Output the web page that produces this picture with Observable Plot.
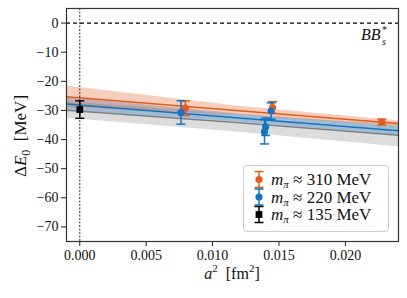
<!DOCTYPE html>
<html><head><meta charset="utf-8">
<script src="https://cdn.jsdelivr.net/npm/d3@7"></script>
<script src="https://cdn.jsdelivr.net/npm/@observablehq/plot@0.6"></script>
<style>
body{margin:0;background:#fff}
#chart{width:407px;height:298px}
</style></head><body><div id="chart"></div>
<script>
const xTicks = [0, 0.005, 0.010, 0.015, 0.020];
const yTicks = [-70, -60, -50, -40, -30, -20, -10, 0];
const series = ["310", "220", "135"];
const legendLabels = ["310 MeV", "220 MeV", "135 MeV"];
const colors = ["#e35b1e", "#1473c2", "#000000"];

const pts310X = [0.00795, 0.01452, 0.02274];
const pts310Y = [-29.2, -29.0, -34.0];
const pts310E = [2.5, 2.0, 1.0];
const pts220X = [0.00762, 0.01441, 0.01400, 0.01391];
const pts220Y = [-30.7, -30.2, -35.6, -37.3];
const pts220E = [4.0, 2.8, 3.0, 4.2];
const pts135X = [0];
const pts135Y = [-29.7];
const pts135E = [3.0];

const fitX = [-0.001, 0.012, 0.024];
const fit310 = [-25.3, -30.1, -34.5];
const fit310Up = [-21.6, -28.6, -33.5];
const fit310Lo = [-29.0, -31.6, -35.5];
const fit220 = [-27.8, -32.6, -37.0];
const fit220Up = [-25.5, -31.2, -35.5];
const fit220Lo = [-30.1, -34.0, -38.5];
const fit135 = [-29.9, -34.2, -38.5];
const fit135Up = [-27.0, -31.5, -34.8];
const fit135Lo = [-32.7, -37.5, -42.5];

const FONT = '"Liberation Serif","Times New Roman","DejaVu Serif",serif';

const mkPts = (xs, ys, es, s) => xs.map((x, i) => ({x, y: ys[i], e: es[i], s}));
const pts = [
  ...mkPts(pts310X, pts310Y, pts310E, "310"),
  ...mkPts(pts220X, pts220Y, pts220E, "220"),
  ...mkPts(pts135X, pts135Y, pts135E, "135")
];
const mkFit = (c, u, l, s) => fitX.map((x, i) => ({x, y: c[i], y1: l[i], y2: u[i], s}));
const fits = [
  ...mkFit(fit135, fit135Up, fit135Lo, "135"),
  ...mkFit(fit220, fit220Up, fit220Lo, "220"),
  ...mkFit(fit310, fit310Up, fit310Lo, "310")
];
const bandFill = {"135": "#9a9a9a", "220": "#1473c2", "310": "#e35b1e"};
const bandOp = {"135": 0.35, "220": 0.3, "310": 0.3};
const lineCol = {"135": "#808080", "220": "#1473c2", "310": "#e35b1e"};
const ptCol = {"310": colors[0], "220": colors[1], "135": colors[2]};

const cap = {draw(ctx) { ctx.moveTo(-4.5, 0); ctx.lineTo(4.5, 0); }};
const minus = d => d < 0 ? "\u2212" + Math.abs(d) : String(d);

const marks = [];
for (const s of ["135", "220", "310"]) {
  const rows = fits.filter(d => d.s === s);
  marks.push(Plot.areaY(rows, {x: "x", y1: "y1", y2: "y2", fill: bandFill[s], fillOpacity: bandOp[s]}));
}
for (const s of ["135", "220", "310"]) {
  const rows = fits.filter(d => d.s === s);
  marks.push(Plot.lineY(rows, {x: "x", y: "y", stroke: lineCol[s], strokeWidth: 1.5}));
}
marks.push(
  Plot.ruleY([0], {stroke: "#000", strokeWidth: 1.2, strokeDasharray: "4,3"}),
  Plot.ruleX([0], {stroke: "#000", strokeWidth: 0.8, strokeDasharray: "2,1.5"}),
  Plot.ruleX(pts, {x: "x", y1: d => d.y - d.e, y2: d => d.y + d.e, stroke: d => ptCol[d.s], strokeWidth: 1.5}),
  Plot.dot(pts, {x: "x", y: d => d.y - d.e, symbol: cap, r: 4, stroke: d => ptCol[d.s], strokeWidth: 1.5, fill: "none"}),
  Plot.dot(pts, {x: "x", y: d => d.y + d.e, symbol: cap, r: 4, stroke: d => ptCol[d.s], strokeWidth: 1.5, fill: "none"}),
  Plot.dot(pts.filter(d => d.s !== "135"), {x: "x", y: "y", r: 3.6, fill: d => ptCol[d.s], stroke: "none"}),
  Plot.dot(pts.filter(d => d.s === "135"), {x: "x", y: "y", symbol: "square", r: 3.8, fill: "#000", stroke: "none"}),
  Plot.axisY(yTicks, {tickFormat: minus, tickSize: 5, tickPadding: 3, fontSize: 14, label: null, stroke: "#222"}),
  Plot.axisX(xTicks, {tickFormat: d3.format(".3f"), tickSize: 5, tickPadding: 4, fontSize: 14, label: null, stroke: "#222"}),
  Plot.frame({stroke: "#333", strokeWidth: 1.2})
);

const chart = Plot.plot({
  width: 407, height: 298,
  marginLeft: 66, marginRight: 9, marginTop: 8, marginBottom: 57,
  x: {domain: [-0.001, 0.024]},
  y: {domain: [-75, 5]},
  style: {color: "#111", background: "#fff"},
  marks
});
document.getElementById("chart").appendChild(chart);

const svg = d3.select(chart);
svg.attr("font-family", FONT).style("font-family", FONT);
const mkText = (x, y, size) => svg.append("text").attr("x", x).attr("y", y)
  .attr("font-size", size).attr("fill", "#111").attr("text-anchor", "start").style("font-family", FONT);

// x label
const xl = mkText(232, 279, 16).attr("text-anchor", "middle");
xl.append("tspan").attr("font-style", "italic").text("a");
xl.append("tspan").attr("font-size", 11).attr("dy", -7).text("2");
xl.append("tspan").attr("dy", 7).text("\u2002[fm");
xl.append("tspan").attr("font-size", 11).attr("dy", -7).text("2");
xl.append("tspan").attr("dy", 7).text("]");

// y label
const yl = mkText(0, 0, 17).attr("text-anchor", "middle").attr("transform", "translate(26,136) rotate(-90)");
yl.append("tspan").text("\u0394");
yl.append("tspan").attr("font-style", "italic").text("E");
yl.append("tspan").attr("font-size", 12).attr("dy", 4).text("0");
yl.append("tspan").attr("dy", -4).text("\u2002[MeV]");

// BB_s^* label
mkText(361, 40, 16).attr("font-style", "italic").text("BB");
mkText(382, 33, 10).text("*");
mkText(382, 45, 10).attr("font-style", "italic").text("s");

// legend
const lg = svg.append("g");
lg.append("rect").attr("x", 243.5).attr("y", 165.5).attr("width", 145).attr("height", 66).attr("rx", 3)
  .attr("fill", "#fff").attr("fill-opacity", 0.85).attr("stroke", "#cccccc");
const rowsY = [179.5, 197, 214.5];
series.forEach((s, i) => {
  const cy = rowsY[i], c = colors[i], cx = 259;
  lg.append("line").attr("x1", cx).attr("x2", cx).attr("y1", cy - 8).attr("y2", cy + 8).attr("stroke", c).attr("stroke-width", 1.5);
  lg.append("line").attr("x1", cx - 4.5).attr("x2", cx + 4.5).attr("y1", cy - 8).attr("y2", cy - 8).attr("stroke", c).attr("stroke-width", 1.5);
  lg.append("line").attr("x1", cx - 4.5).attr("x2", cx + 4.5).attr("y1", cy + 8).attr("y2", cy + 8).attr("stroke", c).attr("stroke-width", 1.5);
  if (s === "135") lg.append("rect").attr("x", cx - 3.4).attr("y", cy - 3.4).attr("width", 6.8).attr("height", 6.8).attr("fill", c);
  else lg.append("circle").attr("cx", cx).attr("cy", cy).attr("r", 3.6).attr("fill", c);
  const t = lg.append("text").attr("x", 271).attr("y", cy + 5.5).attr("font-size", 17).attr("fill", "#111")
    .attr("text-anchor", "start").style("font-family", FONT);
  t.append("tspan").attr("font-style", "italic").text("m");
  t.append("tspan").attr("font-size", 11).attr("font-style", "italic").attr("dy", 3).text("\u03c0");
  t.append("tspan").attr("dy", -3).text(" \u2248 " + legendLabels[i]);
});
svg.selectAll("text").style("font-family", FONT);
</script>
</body></html>
